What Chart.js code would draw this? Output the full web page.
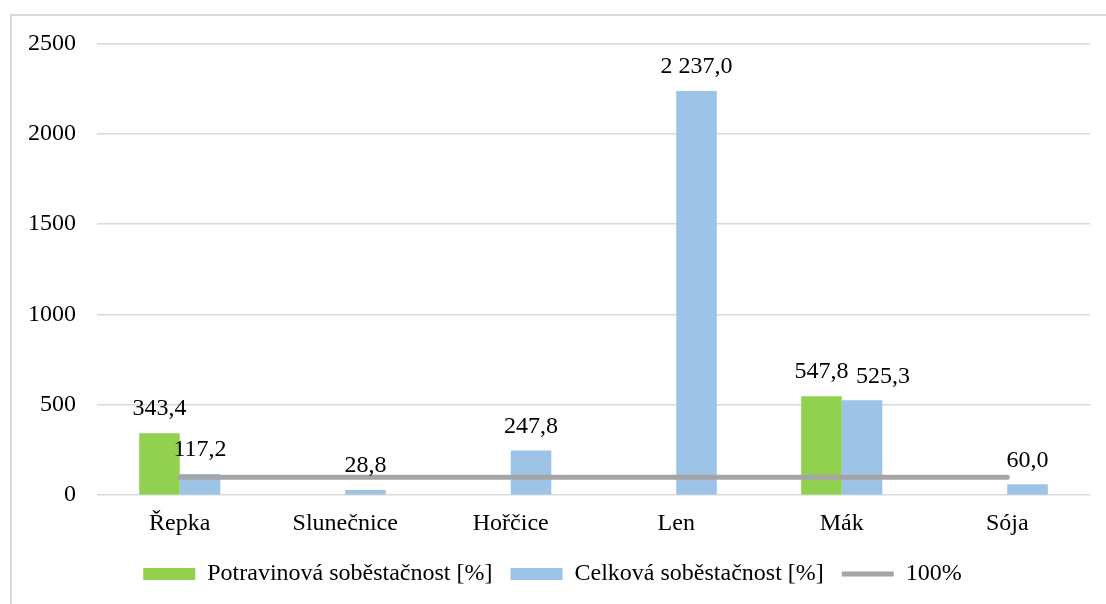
<!DOCTYPE html>
<html>
<head>
<meta charset="utf-8">
<script src="https://cdn.jsdelivr.net/npm/chart.js@4"></script>
<style>
  body { margin: 0; background: #fff; }
  #box {
    position: absolute; left: 10px; top: 14px;
    width: 1094px; height: 588px;
    border-top: 2px solid #d9d9d9; border-left: 2px solid #d9d9d9;
  }
</style>
</head>
<body>
<div id="box"><canvas id="chart"></canvas></div>
<script>
const categories = ["Řepka", "Slunečnice", "Hořčice", "Len", "Mák", "Sója"];
const potravinova = [343.4, null, null, null, 547.8, null];
const celkova = [117.2, 28.8, 247.8, 2237.0, 525.3, 60.0];
const hranice = [100, 100, 100, 100, 100, 100];
const yTicks = [0, 500, 1000, 1500, 2000, 2500];

const FONT = "'Liberation Serif', 'Times New Roman', serif";

// cs format: 2 237,0
function fmt(v) {
  const parts = v.toFixed(1).split(".");
  const whole = parts[0].replace(/\B(?=(\d{3})+(?!\d))/g, " ");
  return whole + "," + parts[1];
}

// label nudges so the two Mák labels don't collide (dataset-index)
const labelShift = { "1-4": 21 };

const barLabels = {
  id: "barLabels",
  afterDatasetsDraw(chart) {
    const ctx = chart.ctx;
    ctx.save();
    ctx.font = "24px " + FONT;
    ctx.fillStyle = "#000";
    ctx.textAlign = "center";
    ctx.textBaseline = "bottom";
    chart.data.datasets.forEach((ds, i) => {
      if (ds.type !== "bar") return;
      chart.getDatasetMeta(i).data.forEach((bar, j) => {
        const v = ds.data[j];
        if (v == null) return;
        const dx = labelShift[i + "-" + j] || 0;
        ctx.fillText(fmt(v), bar.x + dx, bar.y - 12);
      });
    });
    ctx.restore();
  }
};

new Chart(document.getElementById("chart"), {
  type: "bar",
  data: {
    labels: categories,
    datasets: [{
        label: "Potravinová soběstačnost [%]",
        type: "bar",
        data: potravinova,
        backgroundColor: "#92d050",
        pointStyle: "rect",
        order: 1
      }, {
        label: "Celková soběstačnost [%]",
        type: "bar",
        data: celkova,
        backgroundColor: "#9dc3e6",
        pointStyle: "rect",
        order: 1
      }, {
        label: "100%",
        type: "line",
        data: hranice,
        borderColor: "#a5a5a5",
        backgroundColor: "#a5a5a5",
        borderWidth: 5,
        borderCapStyle: "round",
        pointRadius: 0,
        pointStyle: "line",
        fill: false,
        order: 0
      }
    ]
  },
  options: {
    responsive: true,
    maintainAspectRatio: false,
    animation: false,
    devicePixelRatio: 1,
    layout: { padding: { top: 0, right: 16, left: 3, bottom: 8 } },
    datasets: { bar: { categoryPercentage: 0.49, barPercentage: 1 } },
    scales: {
      x: {
        grid: { display: false },
        border: { display: false },
        ticks: { color: "#000", font: { family: FONT, size: 24 }, padding: 6 }
      },
      y: {
        min: 0, max: 2500,
        afterBuildTicks: (s) => { s.ticks = yTicks.map(v => ({ value: v })); },
        grid: { color: "#d9d9d9", lineWidth: 1.5, drawTicks: true, tickLength: 8, tickColor: "rgba(0,0,0,0)" },
        border: { display: false },
        ticks: {
          color: "#000", font: { family: FONT, size: 24 }, padding: 13,
          callback: (v) => String(v)
        }
      }
    },
    plugins: {
      tooltip: { enabled: false },
      legend: {
        position: "bottom",
        labels: {
          color: "#000",
          font: { family: FONT, size: 24 },
          usePointStyle: true,
          pointStyleWidth: 52,
          boxWidth: 52,
          boxHeight: 12,
          padding: 18,
          sort: (a, b) => a.datasetIndex - b.datasetIndex
        }
      }
    }
  },
  plugins: [barLabels]
});
</script>
</body>
</html>
